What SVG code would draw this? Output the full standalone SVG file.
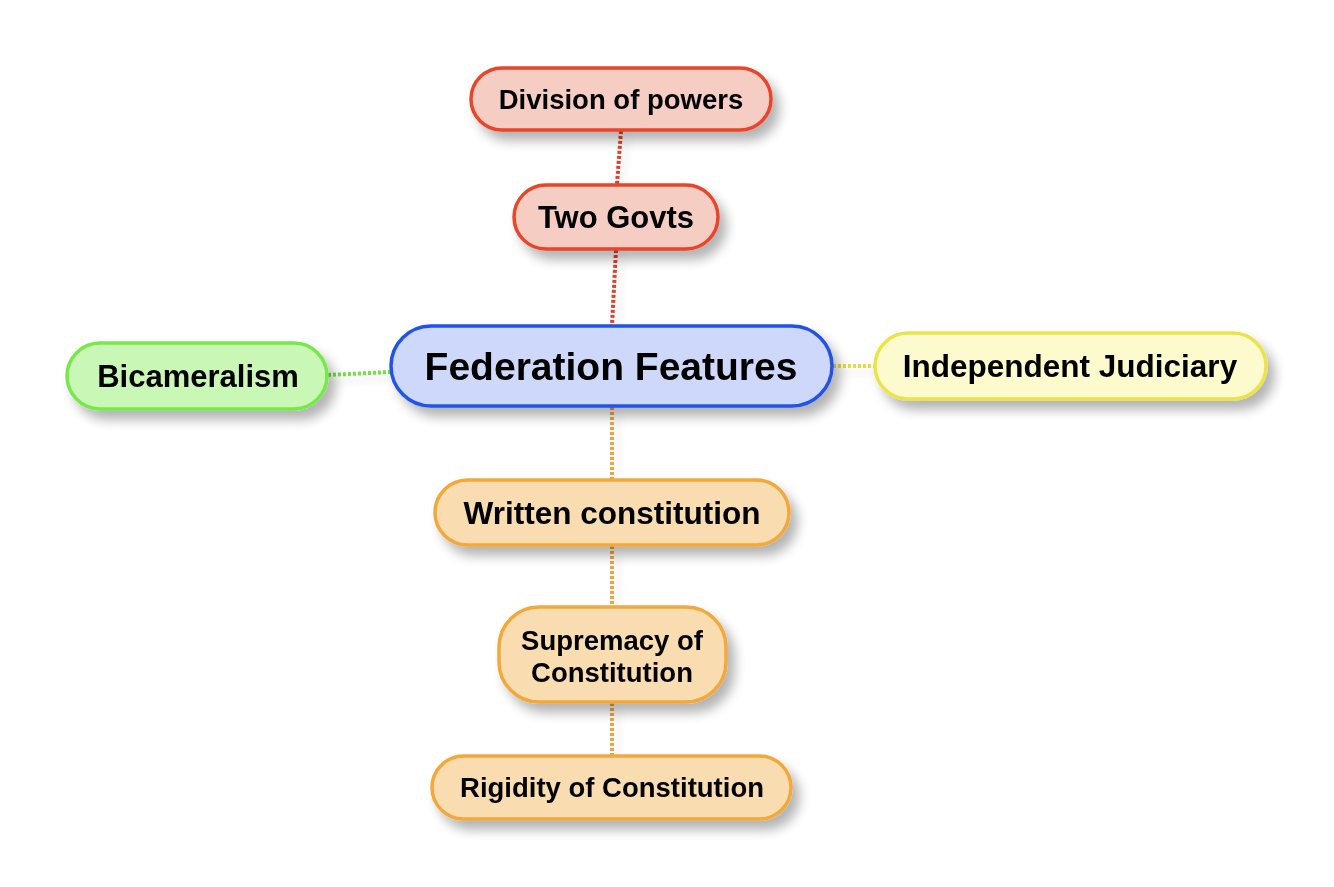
<svg xmlns="http://www.w3.org/2000/svg" width="1334" height="887" viewBox="0 0 1334 887">
<defs>
<filter id="sh" x="-20%" y="-40%" width="150%" height="200%">
<feGaussianBlur in="SourceAlpha" stdDeviation="6"/>
<feOffset dx="7" dy="9" result="b"/>
<feComponentTransfer><feFuncA type="linear" slope="0.3"/></feComponentTransfer>
<feMerge><feMergeNode/><feMergeNode in="SourceGraphic"/></feMerge>
</filter>
<filter id="lsh" x="-50%" y="-50%" width="200%" height="200%">
<feGaussianBlur in="SourceAlpha" stdDeviation="4"/>
<feOffset dx="5" dy="6"/>
<feComponentTransfer><feFuncA type="linear" slope="0.12"/></feComponentTransfer>
<feMerge><feMergeNode/><feMergeNode in="SourceGraphic"/></feMerge>
</filter>
</defs>
<style>
text{font-family:"Liberation Sans",Arial,sans-serif;font-weight:bold;fill:#000;text-anchor:middle;dominant-baseline:central}
.n{stroke-width:3.5}
.red{fill:#f6cdc3;stroke:#e8442a}
.blue{fill:#cdd8fa;stroke:#2353e8}
.green{fill:#c8f7b6;stroke:#77e84a}
.yellow{fill:#fdfbcd;stroke:#ece34a}
.orange{fill:#f9dcaf;stroke:#f2a83a}
.c{stroke-width:4;stroke-dasharray:3 2;fill:none}
</style>
<rect width="1334" height="887" fill="#ffffff"/>
<g id="connectors" filter="url(#lsh)">
<line class="c" x1="621" y1="131" x2="617" y2="184" stroke="#e0402a"/>
<line class="c" x1="616" y1="250" x2="612" y2="325" stroke="#e0402a"/>
<line class="c" x1="328" y1="375" x2="390" y2="372" stroke="#6ee440"/>
<line class="c" x1="833" y1="366" x2="874" y2="366" stroke="#e6dc3c"/>
<line class="c" x1="612" y1="407" x2="612" y2="479" stroke="#eea43a"/>
<line class="c" x1="612" y1="546" x2="612" y2="606" stroke="#eea43a"/>
<line class="c" x1="612" y1="703" x2="612" y2="755" stroke="#eea43a"/>
</g>
<g id="division" filter="url(#sh)">
<rect class="n red" x="471" y="68" width="300" height="62" rx="31"/>
<text x="621" y="99" font-size="27.5">Division of powers</text>
</g>
<g id="twogovts" filter="url(#sh)">
<rect class="n red" x="514" y="185" width="204" height="64" rx="32"/>
<text x="616" y="217" font-size="31">Two Govts</text>
</g>
<g id="federation" filter="url(#sh)">
<rect class="n blue" x="391" y="326" width="441" height="80" rx="40"/>
<text x="611" y="366" font-size="39">Federation Features</text>
</g>
<g id="bicameralism" filter="url(#sh)">
<rect class="n green" x="67" y="343" width="260" height="66" rx="33"/>
<text x="198" y="376" font-size="31">Bicameralism</text>
</g>
<g id="judiciary" filter="url(#sh)">
<rect class="n yellow" x="875" y="333" width="391" height="66" rx="33"/>
<text x="1070" y="366" font-size="31.5">Independent Judiciary</text>
</g>
<g id="written" filter="url(#sh)">
<rect class="n orange" x="435" y="480" width="354" height="65" rx="32.5"/>
<text x="612" y="513" font-size="31.5">Written constitution</text>
</g>
<g id="supremacy" filter="url(#sh)">
<rect class="n orange" x="499" y="607" width="227" height="95" rx="40"/>
<text x="612" y="640" font-size="27.5">Supremacy of</text>
<text x="612" y="672" font-size="27.5">Constitution</text>
</g>
<g id="rigidity" filter="url(#sh)">
<rect class="n orange" x="432" y="756" width="359" height="63" rx="31.5"/>
<text x="612" y="787" font-size="27.5">Rigidity of Constitution</text>
</g>
</svg>
